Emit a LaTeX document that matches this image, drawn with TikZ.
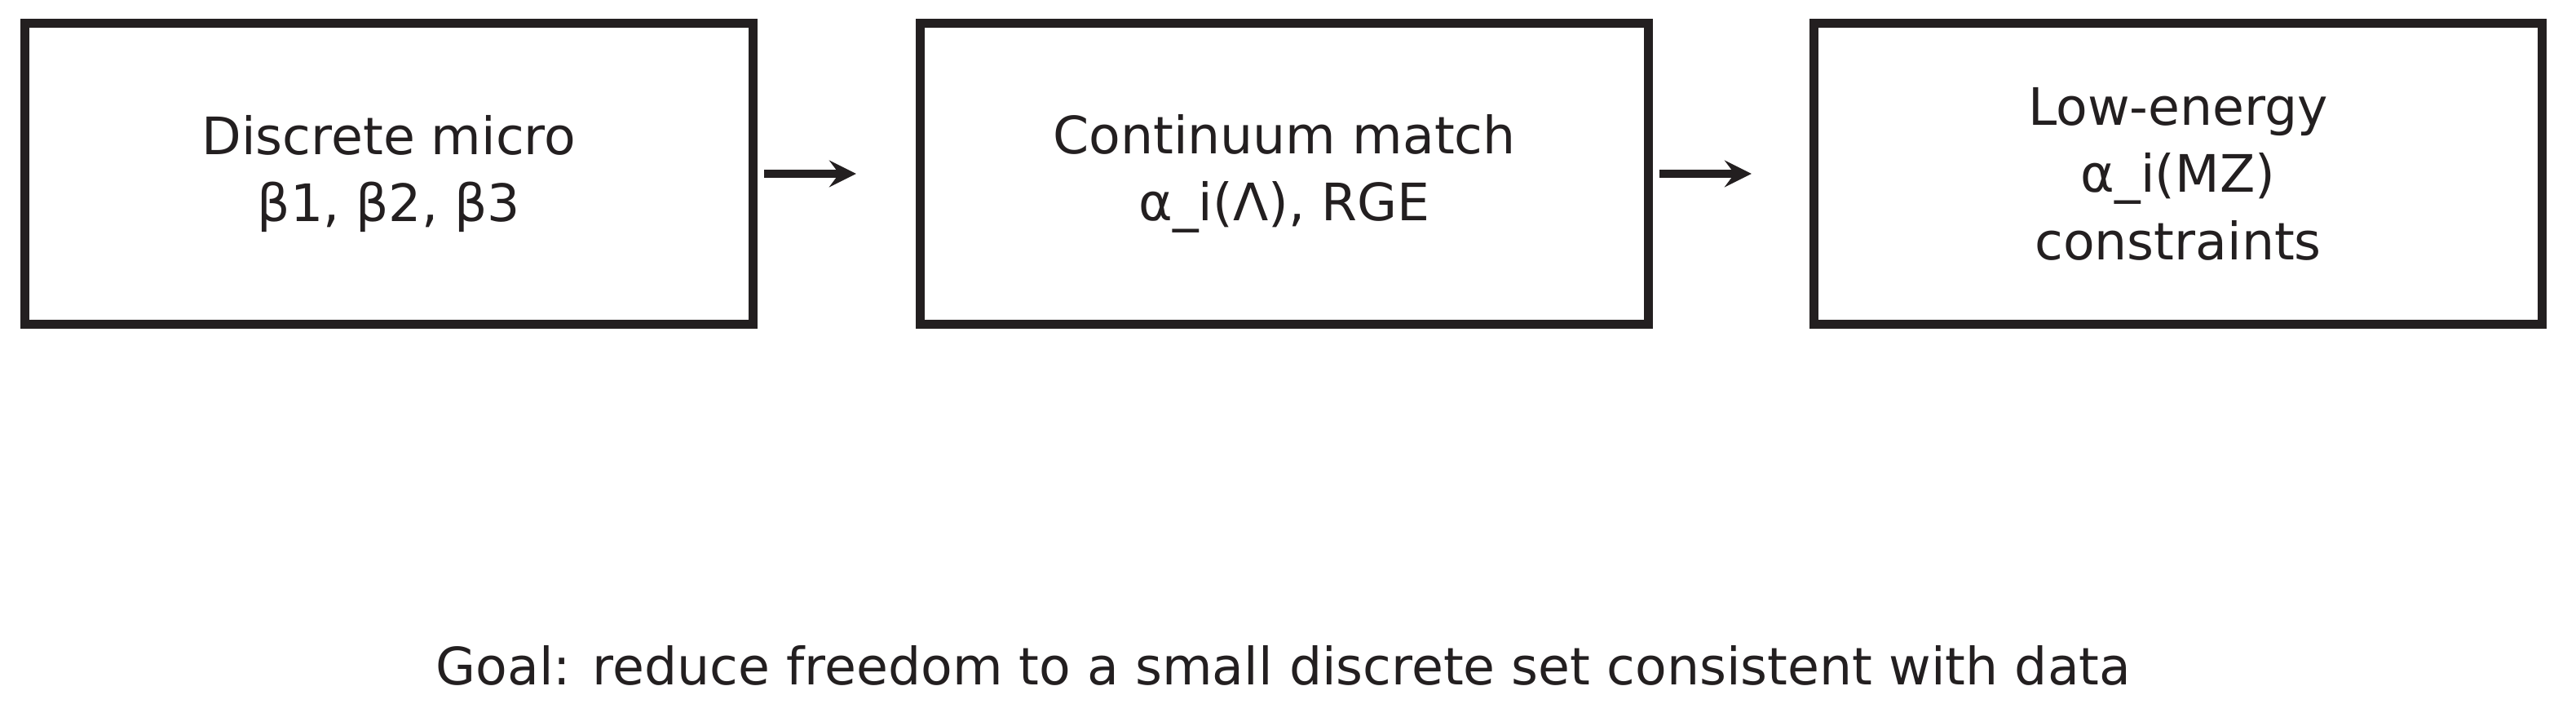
\documentclass[tikz,border=0pt]{standalone}
\usepackage{fontspec}
\setmainfont{DejaVu Sans}
\usetikzlibrary{positioning}
\definecolor{ink}{HTML}{231F20}
\begin{document}
\begin{tikzpicture}[x=1cm,y=1cm,
  stagebox/.style={draw=ink,line width=3pt,minimum width=8.93cm,minimum height=3.69cm,
    align=center,text=ink,font=\fontsize{18}{23.5}\selectfont},
  flow/.style={draw=ink,line width=3pt,-stealth}]
\useasboundingbox (0,0) rectangle (31.59,8.9);
\node[stagebox] (micro) at (4.77,6.77) {Discrete micro\\β1, β2, β3};
\node[stagebox] (match) at (15.75,6.77) {Continuum match\\α\_i(Λ), RGE};
\node[stagebox] (low) at (26.71,6.77) {Low-energy\\α\_i(MZ)\\constraints};
\draw[flow] (micro.east) ++(0.08,0) coordinate (a1) -- ++(1.13,0);
\draw[flow] (match.east) ++(0.08,0) coordinate (a2) -- ++(1.13,0);
\node[text=ink,font=\fontsize{18}{23.5}\selectfont] (goal) at (15.74,0.74)
  {Goal: reduce freedom to a small discrete set consistent with data};
\end{tikzpicture}
\end{document}
